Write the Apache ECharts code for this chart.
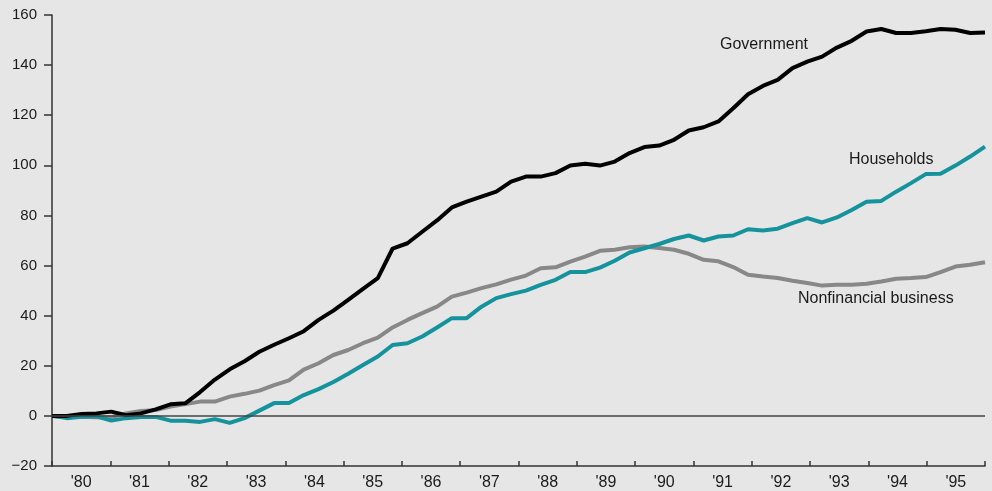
<!DOCTYPE html>
<html>
<head>
<meta charset="utf-8">
<script src="https://cdn.jsdelivr.net/npm/echarts@6/dist/echarts.min.js"></script>
<style>
  html, body { margin: 0; padding: 0; background: #e6e6e6; }
  #chart { width: 992px; height: 491px; }
</style>
</head>
<body>
<div id="chart"></div>
<script>
// quarterly, 1980Q1 - 1995Q4
const years = Array.from({ length: 16 }, (_, i) => 1980 + i)
const quarters = years.flatMap(y => ['Q1', 'Q2', 'Q3', 'Q4'].map(q => y + q))

const government = [
  0, 0, 0.8, 1.0, 1.7, 0.3, 1.0, 2.6, 4.6, 5.0, 9.5, 14.5, 18.6, 21.8, 25.6, 28.4,
  31.0, 33.8, 38.3, 42.0, 46.3, 50.7, 55.0, 66.8, 68.9, 73.5, 78.0, 83.2, 85.5, 87.5, 89.5, 93.5,
  95.5, 95.5, 96.9, 99.9, 100.6, 99.9, 101.5, 104.9, 107.3, 107.9, 110.2, 113.9, 115.2, 117.5, 122.8, 128.4,
  131.7, 134.1, 138.8, 141.4, 143.4, 147.0, 149.7, 153.4, 154.4, 152.8, 152.8, 153.5, 154.4, 154.1, 152.8, 153.0
]
const households = [
  0, -0.9, -0.3, -0.2, -1.9, -0.9, -0.4, -0.4, -1.9, -1.9, -2.4, -1.3, -2.8, -0.9, 2.1, 5.1,
  5.1, 8.3, 10.7, 13.5, 16.8, 20.3, 23.7, 28.3, 29.0, 31.7, 35.3, 39.0, 39.0, 43.6, 47.0, 48.6,
  50.0, 52.3, 54.3, 57.4, 57.4, 59.2, 61.9, 65.2, 66.9, 68.6, 70.6, 72.0, 70.0, 71.6, 72.0, 74.5,
  74.0, 74.7, 76.9, 78.9, 77.2, 79.2, 82.2, 85.5, 85.8, 89.5, 92.9, 96.5, 96.6, 99.9, 103.5, 107.5
]
const business = [
  0, -0.5, -0.3, -0.5, -0.5, 1.0, 2.0, 2.3, 3.7, 4.7, 5.7, 5.7, 7.7, 8.8, 10.1, 12.3,
  14.2, 18.5, 21.0, 24.3, 26.3, 29.0, 31.2, 35.3, 38.3, 41.0, 43.6, 47.6, 49.2, 51.0, 52.5, 54.4,
  56.0, 58.9, 59.3, 61.6, 63.6, 65.9, 66.3, 67.3, 67.6, 67.0, 66.3, 64.7, 62.3, 61.7, 59.4, 56.3,
  55.6, 55.0, 53.9, 53.0, 52.0, 52.3, 52.3, 52.7, 53.6, 54.7, 55.0, 55.4, 57.4, 59.6, 60.3, 61.3
]

const textColor = '#1a1a1a'
const axisColor = '#333'
const font = 'Liberation Sans, Arial, sans-serif'

const chart = echarts.init(document.getElementById('chart'))

const option = {
  backgroundColor: '#e6e6e6',
  animation: false,
  grid: { left: 52, right: 7, top: 15, bottom: 25 },
  xAxis: [
    {
      // data positions
      type: 'category',
      data: quarters,
      boundaryGap: false,
      show: false,
    },
    {
      // year boundary ticks
      type: 'value',
      min: 0,
      max: 64,
      interval: 4,
      position: 'bottom',
      axisLine: { show: true, lineStyle: { color: axisColor, width: 1.5 } },
      axisTick: { show: true, inside: true, length: 5, lineStyle: { color: axisColor, width: 1.5 } },
      axisLabel: { show: false },
      splitLine: { show: false },
    },
    {
      // year labels, centred in each year
      type: 'value',
      min: 0,
      max: 64,
      interval: 2,
      position: 'bottom',
      axisLine: { show: false },
      axisTick: { show: false },
      splitLine: { show: false },
      axisLabel: {
        color: textColor,
        fontFamily: font,
        fontSize: 16,
        margin: 9,
        showMinLabel: false,
        showMaxLabel: false,
        formatter: v => (v % 4 === 2 ? "'" + String(years[(v - 2) / 4]).slice(2) : ''),
      },
    },
  ],
  yAxis: {
    type: 'value',
    min: -20,
    max: 160,
    interval: 20,
    axisLine: { show: true, lineStyle: { color: axisColor, width: 1.5 } },
    axisTick: { show: true, length: 8, lineStyle: { color: axisColor, width: 1.5 } },
    splitLine: { show: false },
    axisLabel: {
      color: textColor,
      fontFamily: font,
      fontSize: 15,
      margin: 15,
      formatter: v => String(v).replace('-', '\u2212'),
    },
  },
  series: [
    {
      name: 'Nonfinancial business',
      type: 'line',
      xAxisIndex: 0,
      data: business,
      symbol: 'none',
      lineStyle: { color: '#888888', width: 4 },
      markLine: {
        silent: true,
        symbol: 'none',
        label: { show: false },
        lineStyle: { color: '#444', width: 1.5, type: 'solid' },
        data: [{ yAxis: 0 }],
      },
      z: 2,
    },
    {
      name: 'Households',
      type: 'line',
      xAxisIndex: 0,
      data: households,
      symbol: 'none',
      lineStyle: { color: '#14939c', width: 4 },
      z: 3,
    },
    {
      name: 'Government',
      type: 'line',
      xAxisIndex: 0,
      data: government,
      symbol: 'none',
      lineStyle: { color: '#000000', width: 4 },
      z: 4,
    },
  ],
  graphic: [
    { type: 'text', left: 720, top: 37, style: { text: 'Government', fill: textColor, font: '16px ' + font } },
    { type: 'text', left: 849, top: 152, style: { text: 'Households', fill: textColor, font: '16px ' + font } },
    { type: 'text', left: 798, top: 291, style: { text: 'Nonfinancial business', fill: textColor, font: '16px ' + font } },
  ],
}

chart.setOption(option)
</script>
</body>
</html>
